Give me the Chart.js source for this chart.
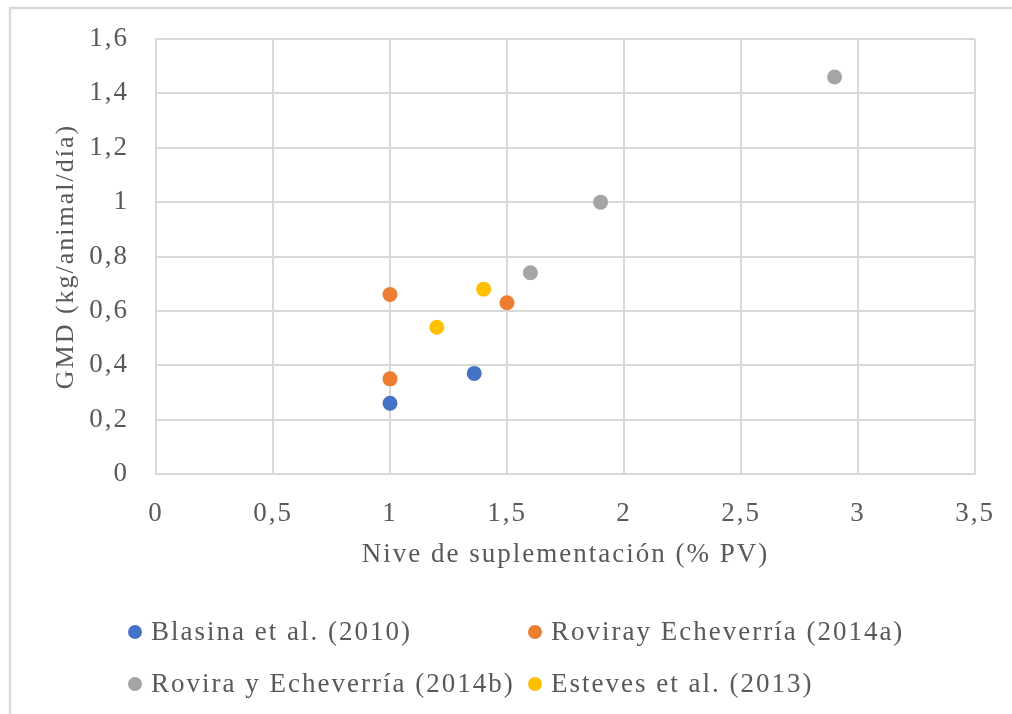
<!DOCTYPE html>
<html>
<head>
<meta charset="utf-8">
<script src="https://cdn.jsdelivr.net/npm/chart.js@4.4.1/dist/chart.umd.min.js"></script>
<style>
  html, body { margin: 0; padding: 0; background: #fff; }
  #wrap { position: relative; width: 1012px; height: 714px; }
</style>
</head>
<body>
<div id="wrap"><canvas id="grafico" width="1012" height="714"></canvas></div>
<script>
// Nivel de suplementación (% PV) vs. GMD (kg/animal/día)
const series = ['Blasina et al. (2010)', 'Roviray Echeverría (2014a)', 'Rovira y Echeverría (2014b)', 'Esteves et al. (2013)'];
const colores = ['#4472C4', '#ED7D31', '#A5A5A5', '#FFC000'];

const blasinaX = [1, 1.36];
const blasinaY = [0.26, 0.37];
const roviraAX = [1, 1, 1.5];
const roviraAY = [0.66, 0.35, 0.63];
const roviraBX = [1.6, 1.9, 2.9];
const roviraBY = [0.74, 1.0, 1.46];
const estevesX = [1.2, 1.4];
const estevesY = [0.54, 0.68];

const xMax = 3.5, xPaso = 0.5;
const yMax = 1.6, yPaso = 0.2;

const pares = (xs, ys) => xs.map((x, i) => ({ x: x, y: ys[i] }));
const puntos = [pares(blasinaX, blasinaY), pares(roviraAX, roviraAY), pares(roviraBX, roviraBY), pares(estevesX, estevesY)];

const fuente = 'Liberation Serif, Times New Roman, serif';
const tam = 27;
const gris = '#595959';
const lineaGrid = '#d9d9d9';
const coma = v => String(Math.round(v * 10) / 10).replace('.', ',');

// texto algo espaciado, como en el original
const espaciado = {
  id: 'espaciado',
  beforeLayout(chart) { chart.ctx.letterSpacing = '2px'; },
  beforeDraw(chart) { chart.ctx.letterSpacing = '2px'; }
};

// marco exterior (solo se ven los bordes superior e izquierdo)
const marco = {
  id: 'marco',
  beforeDraw(chart) {
    const c = chart.ctx;
    c.save();
    c.strokeStyle = lineaGrid;
    c.lineWidth = 2.5;
    c.beginPath();
    c.moveTo(10, chart.height);
    c.lineTo(10, 8);
    c.lineTo(chart.width, 8);
    c.stroke();
    c.restore();
  }
};

// leyenda en dos columnas alineadas
const leyenda = {
  id: 'leyenda',
  afterDraw(chart) {
    const c = chart.ctx;
    const cols = [135, 535];
    const filas = [632, 684];
    c.save();
    c.font = tam + 'px ' + fuente;
    c.textBaseline = 'middle';
    c.textAlign = 'left';
    chart.data.datasets.forEach((ds, i) => {
      const x = cols[i % 2], y = filas[Math.floor(i / 2)];
      c.fillStyle = ds.backgroundColor;
      c.beginPath();
      c.arc(x, y, 7, 0, Math.PI * 2);
      c.fill();
      c.fillStyle = gris;
      c.fillText(ds.label, x + 16, y + 1);
    });
    c.restore();
  }
};

// sin relleno extra por las etiquetas: el área la fija layout.padding
const sinRelleno = s => { s.paddingTop = 0; s.paddingBottom = 0; s.paddingLeft = 0; s.paddingRight = 0; };

new Chart(document.getElementById('grafico').getContext('2d'), {
  type: 'scatter',
  data: {
    datasets: series.map((nombre, i) => ({
      label: nombre,
      data: puntos[i],
      backgroundColor: colores[i],
      borderColor: colores[i],
      borderWidth: 0,
      pointRadius: 7.5,
      pointHoverRadius: 7.5
    }))
  },
  options: {
    responsive: false,
    animation: false,
    events: [],
    layout: { padding: { left: 0, top: 39, right: 37, bottom: 140 } },
    plugins: { legend: { display: false }, tooltip: { enabled: false } },
    scales: {
      x: {
        type: 'linear',
        min: 0,
        max: xMax,
        afterFit: s => { s.height = 100; sinRelleno(s); },
        ticks: { stepSize: xPaso, padding: 24, color: gris, font: { family: fuente, size: tam }, callback: coma },
        grid: { color: lineaGrid, lineWidth: 2, drawTicks: false },
        border: { color: lineaGrid, width: 2 },
        title: { display: true, text: 'Nive de suplementación (% PV)', color: gris, font: { family: fuente, size: tam }, padding: { top: 0, bottom: 3 } }
      },
      y: {
        type: 'linear',
        min: 0,
        max: yMax,
        afterFit: s => { s.width = 156; sinRelleno(s); },
        ticks: { stepSize: yPaso, padding: 27, color: gris, font: { family: fuente, size: tam }, callback: coma },
        grid: { color: lineaGrid, lineWidth: 2, drawTicks: false },
        border: { color: lineaGrid, width: 2 },
        title: { display: true, text: 'GMD (kg/animal/día)', color: gris, font: { family: fuente, size: 26 }, padding: { top: 51, bottom: 0 } }
      }
    }
  },
  plugins: [espaciado, marco, leyenda]
});
</script>
</body>
</html>
